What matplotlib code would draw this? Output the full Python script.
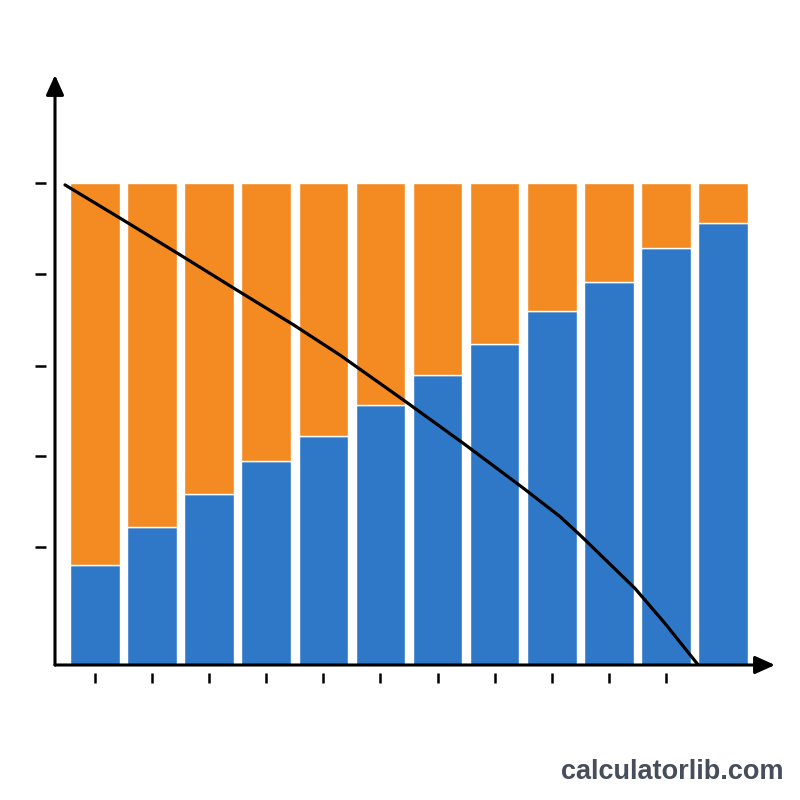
import matplotlib
matplotlib.use('Agg')
import matplotlib.pyplot as plt

# share of each bar (percent), blue part at the bottom, orange on top
blue_share = [20.7, 28.6, 35.5, 42.3, 47.5, 53.9, 60.2, 66.6, 73.4, 79.5, 86.5, 91.7]
total = 100.0
orange_share = [total - b for b in blue_share]

# black curve drawn over the bars (x in bar-index units, y in percent)
curve_x = [-0.525, 0.496, 1.489, 2.482, 3.473, 4.291, 5.399, 6.450,
           7.501, 8.144, 8.510, 9.457, 9.982, 10.566]
curve_y = [99.6, 92.3, 85.1, 77.8, 70.6, 64.3, 55.0, 46.0,
           36.7, 30.8, 26.8, 15.9, 8.65, 0.0]

ytick_vals = [24.5, 43.3, 62.0, 81.1, 100.0]

blue = '#2f78c8'
orange = '#f48a22'

fig = plt.figure(figsize=(8, 8), dpi=100)
ax = fig.add_axes([55 / 800, 135 / 800, 720 / 800, 590 / 800])

xs = list(range(len(blue_share)))
ax.bar(xs, blue_share, width=0.87, color=blue, edgecolor='white', linewidth=1.0)
ax.bar(xs, orange_share, bottom=blue_share, width=0.87, color=orange,
       edgecolor='white', linewidth=1.0)
ax.plot(curve_x, curve_y, color='black', linewidth=2.3,
        solid_capstyle='round', solid_joinstyle='round')

ax.set_xlim(-0.70, 11.91)
ax.set_ylim(0, 122.4)

for s in ax.spines.values():
    s.set_visible(False)
ax.spines['left'].set_position(('outward', 6.5))
ax.spines['bottom'].set_position(('outward', 5.8))

ax.set_xticks(xs[:-1])
ax.set_xticklabels([])
ax.set_yticks(ytick_vals)
ax.set_yticklabels([])
ax.tick_params(axis='x', direction='out', length=7, width=1.8, color='black')
ax.tick_params(axis='y', direction='out', length=8, width=1.8, color='black')

arrow = dict(arrowstyle='-|>,head_length=0.6,head_width=0.27', color='black',
             lw=2.2, shrinkA=0, shrinkB=0, mutation_scale=20)
ax.annotate('', xy=(1, 0), xytext=(0, 0), xycoords='axes fraction',
            textcoords='axes fraction', arrowprops=arrow, annotation_clip=False)
ax.annotate('', xy=(0, 1), xytext=(0, 0), xycoords='axes fraction',
            textcoords='axes fraction', arrowprops=arrow, annotation_clip=False)

fig.text(783 / 800, 1 - 772 / 800, 'calculatorlib.com', ha='right', va='center',
         fontsize=19.5, fontweight='bold', family='Liberation Sans', color='#474e5b')

plt.savefig('out.png', dpi=100)
